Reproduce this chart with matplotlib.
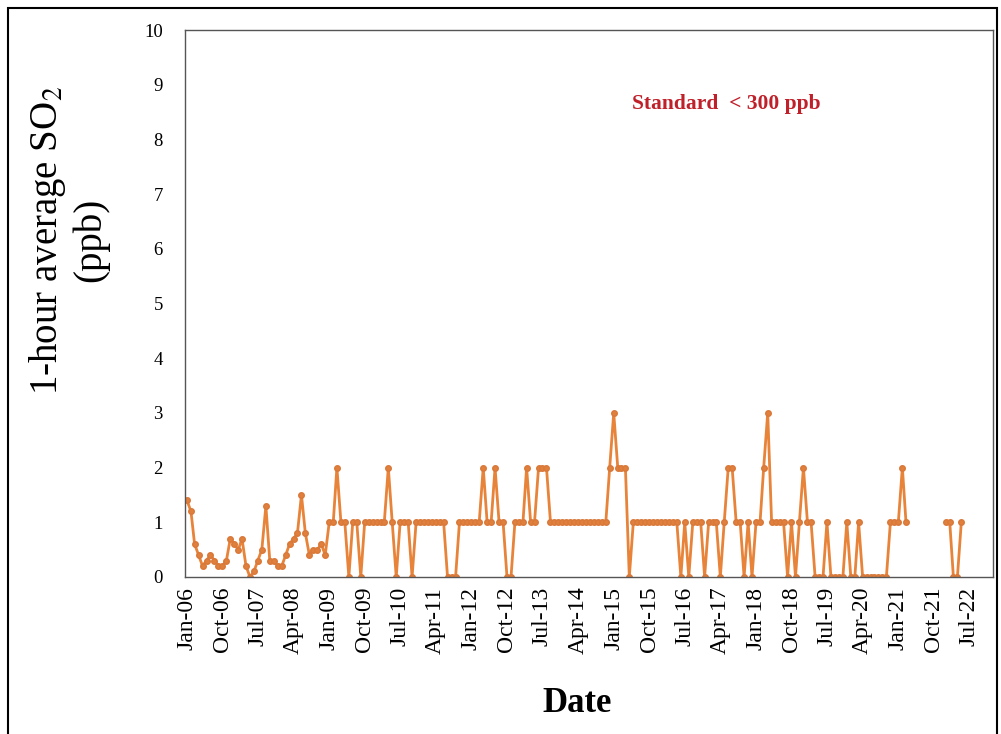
import numpy as np
import pandas as pd
import matplotlib
matplotlib.use("Agg")
import matplotlib.pyplot as plt
import matplotlib.dates as mdates
from matplotlib.patches import Rectangle

plt.rcParams['font.family'] = ['Liberation Serif', 'DejaVu Serif']
plt.rcParams['mathtext.fontset'] = 'stix'

# monthly 1-hour average SO2 (ppb), Jan-2006 onwards; nan = no record
so2 = [
    1.4, 1.2, 0.6, 0.4, 0.2, 0.3, 0.4, 0.3, 0.2, 0.2,
    0.3, 0.7, 0.6, 0.5, 0.7, 0.2, 0.0, 0.1, 0.3, 0.5,
    1.3, 0.3, 0.3, 0.2, 0.2, 0.4, 0.6, 0.7, 0.8, 1.5,
    0.8, 0.4, 0.5, 0.5, 0.6, 0.4, 1, 1, 2, 1,
    1, 0, 1, 1, 0, 1, 1, 1, 1, 1,
    1, 2, 1, 0, 1, 1, 1, 0, 1, 1,
    1, 1, 1, 1, 1, 1, 0, 0, 0, 1,
    1, 1, 1, 1, 1, 2, 1, 1, 2, 1,
    1, 0, 0, 1, 1, 1, 2, 1, 1, 2,
    2, 2, 1, 1, 1, 1, 1, 1, 1, 1,
    1, 1, 1, 1, 1, 1, 1, 2, 3, 2,
    2, 2, 0, 1, 1, 1, 1, 1, 1, 1,
    1, 1, 1, 1, 1, 0, 1, 0, 1, 1,
    1, 0, 1, 1, 1, 0, 1, 2, 2, 1,
    1, 0, 1, 0, 1, 1, 2, 3, 1, 1,
    1, 1, 0, 1, 0, 1, 2, 1, 1, 0,
    0, 0, 1, 0, 0, 0, 0, 1, 0, 0,
    1, 0, 0, 0, 0, 0, 0, 0, 1, 1,
    1, 2, 1, np.nan, np.nan, np.nan, np.nan, np.nan, np.nan, np.nan,
    np.nan, np.nan, 1, 1, 0, 0, 1,
]
months = pd.date_range("2006-01-01", periods=len(so2), freq="MS")
tick_dates = pd.date_range("2006-01-01", "2022-07-01", freq="9MS")

fig = plt.figure(figsize=(10.01, 7.34), dpi=100)
ax = fig.add_axes([0.1848, 0.214, 0.8072, 0.745])

ax.plot(months, so2, color="#E8833A", lw=2, marker="o", ms=4,
        markerfacecolor="#E0803C", markeredgecolor="#D9793A")

ax.set_ylim(0, 10)
ax.set_yticks(range(0, 11))
ax.set_xlim(pd.Timestamp("2005-12-17"), pd.Timestamp("2022-12-31"))
ax.set_xticks(tick_dates)
ax.xaxis.set_major_formatter(mdates.DateFormatter("%b-%y"))
ax.tick_params(axis="x", labelrotation=90, labelsize=17, length=0, pad=7)
ax.tick_params(axis="y", labelsize=13.5, length=0, pad=16)

for s in ax.spines.values():
    s.set_color("#555555")
    s.set_linewidth(1)

# axis titles placed in figure coordinates
fig.text(68 / 1001, 1 - 240 / 734, "1-hour average SO$_2$\n(ppb)",
         rotation=90, ha="center", va="center", multialignment="center",
         fontsize=28, linespacing=1.15)
fig.text(577 / 1001, 1 - 703 / 734, "Date", ha="center", va="center",
         fontsize=25, fontweight="bold")

ax.text(0.67, 0.865, "Standard  < 300 ppb", transform=ax.transAxes,
        ha="center", va="center", color="#C0202A", fontsize=15.5,
        fontweight="bold")

# outer frame around the whole figure
fig.patches.append(Rectangle((8 / 1001, -0.05), 989 / 1001, 0.05 + 726 / 734,
                             transform=fig.transFigure, fill=False,
                             edgecolor="black", lw=1.5))

fig.savefig("out.png", dpi=100)
